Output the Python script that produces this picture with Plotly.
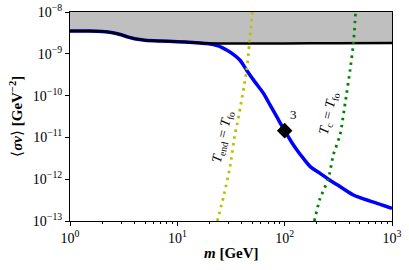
import plotly.graph_objects as go
import numpy as np

# ---- data ----
m_blue = [1.0, 1.5, 2.0, 2.5, 3.0, 3.5, 4.0, 5.0, 7.0, 10.0, 14.0, 18.8, 24.0, 28.8, 33.0, 38.4,
          44.4, 53.0, 63.4, 73.0, 84.3, 100.0, 115.0, 130.0, 150.0, 173.0, 214.0, 255.0, 330.0,
          437.0, 650.0, 1000.0]
sv_blue = [3.51e-9, 3.5e-9, 3.42e-9, 3.2e-9, 2.85e-9, 2.5e-9, 2.3e-9, 2.12e-9, 2.02e-9, 1.95e-9,
           1.86e-9, 1.76e-9, 1.55e-9, 1.23e-9, 9.8e-10, 7.0e-10,
           4.0e-10, 2.1e-10, 1.14e-10, 6.0e-11, 3.13e-11, 1.45e-11, 8.0e-12, 5.0e-12, 3.1e-12,
           2.0e-12, 1.38e-12, 1.0e-12, 6.6e-13,
           4.2e-13, 2.9e-13, 2.0e-13]

m_black = [1.0, 1.5, 2.0, 2.5, 3.0, 3.5, 4.0, 5.0, 7.0, 10.0, 14.0, 18.8, 30.0, 100.0, 300.0, 1000.0]
sv_black = [3.51e-9, 3.5e-9, 3.42e-9, 3.2e-9, 2.85e-9, 2.5e-9, 2.3e-9, 2.12e-9, 2.02e-9, 1.95e-9,
            1.86e-9, 1.78e-9, 1.76e-9, 1.77e-9, 1.79e-9, 1.81e-9]
band_top = 1e-8

m_yellow = [23.6, 26.9, 31.0, 34.5, 35.7, 44.3, 46.9, 50.0]
sv_yellow = [1.0e-13, 3.8e-13, 2.0e-12, 1.26e-11, 1.8e-11, 4.1e-10, 1.8e-9, 1e-8]

m_green = [189.0, 214.0, 255.0, 284.0, 328.0, 366.0, 407.0, 437.0, 458.0]
sv_green = [1.0e-13, 3.5e-13, 1.0e-12, 3.8e-12, 1.15e-11, 6.6e-11, 4.1e-10, 1.78e-9, 1e-8]

bp_m = [100.0]
bp_sv = [1.45e-11]
bp_label = ["3"]

x_tickvals = [1, 10, 100, 1000]
x_ticktext = ["10<sup>0</sup>", "10<sup>1</sup>", "10<sup>2</sup>", "10<sup>3</sup>"]
y_tickvals = [1e-13, 1e-12, 1e-11, 1e-10, 1e-9, 1e-8]
y_ticktext = ["10<sup>−13</sup>", "10<sup>−12</sup>", "10<sup>−11</sup>",
              "10<sup>−10</sup>", "10<sup>−9</sup>", "10<sup>−8</sup>"]

FONT = "Liberation Serif"

fig = go.Figure()
# grey excluded band
fig.add_trace(go.Scatter(x=m_black, y=[band_top] * len(m_black), mode="lines",
                         line=dict(width=0, color="rgba(0,0,0,0)"), showlegend=False,
                         hoverinfo="skip"))
fig.add_trace(go.Scatter(x=m_black, y=sv_black, mode="lines", fill="tonexty",
                         fillcolor="#bfbfbf", line=dict(width=0, color="rgba(0,0,0,0)"),
                         showlegend=False, hoverinfo="skip"))
# blue
fig.add_trace(go.Scatter(x=m_blue, y=sv_blue, mode="lines",
                         line=dict(color="#0000ff", width=3.5, shape="spline", smoothing=0.8),
                         showlegend=False))
# black
fig.add_trace(go.Scatter(x=m_black, y=sv_black, mode="lines",
                         line=dict(color="black", width=2.5, shape="spline", smoothing=0.8),
                         showlegend=False))
# dotted lines
fig.add_trace(go.Scatter(x=m_yellow, y=sv_yellow, mode="lines",
                         line=dict(color="#bfbf00", width=2.8, dash="2.5px,4.5px",
                                   shape="spline", smoothing=0.6),
                         showlegend=False))
fig.add_trace(go.Scatter(x=m_green, y=sv_green, mode="lines",
                         line=dict(color="#008000", width=2.8, dash="2.5px,4.5px",
                                   shape="spline", smoothing=0.6),
                         showlegend=False))
# benchmark
fig.add_trace(go.Scatter(x=bp_m, y=bp_sv, mode="markers",
                         marker=dict(symbol="diamond", size=12, color="black"),
                         showlegend=False))

fig.add_annotation(x=np.log10(bp_m[0]) + 0.078, y=np.log10(bp_sv[0]) + 0.38, text=bp_label[0],
                   showarrow=False, font=dict(family=FONT, size=13, color="black"))
fig.add_annotation(x=1.43, y=-10.99, text="<i>T</i><sub>end</sub> = <i>T</i><sub>fo</sub>",
                   showarrow=False, textangle=-77,
                   font=dict(family=FONT, size=14, color="black"))
fig.add_annotation(x=2.41, y=-10.42, text="<i>T</i><sub>c</sub> = <i>T</i><sub>fo</sub>",
                   showarrow=False, textangle=-77,
                   font=dict(family=FONT, size=14, color="black"))

# axis titles
fig.add_annotation(xref="paper", yref="paper", x=0.5, y=-0.153,
                   text="<b><i>m</i></b> <b>[GeV]</b>", showarrow=False,
                   xanchor="center", yanchor="middle",
                   font=dict(family=FONT, size=15, color="black"))
fig.add_annotation(xref="paper", yref="paper", x=-0.17, y=0.5,
                   text="⟨<b><i>σv</i></b>⟩ <b>[GeV<sup>−2</sup>]</b>", showarrow=False,
                   textangle=-90, xanchor="center", yanchor="middle",
                   font=dict(family=FONT, size=15, color="black"))

fig.update_xaxes(type="log", range=[0, 3], tickvals=x_tickvals, ticktext=x_ticktext,
                 ticks="outside", ticklen=4, tickcolor="black", showline=True,
                 linecolor="black", linewidth=1, mirror=True, showgrid=False, zeroline=False,
                 automargin=False,
                 tickfont=dict(family=FONT, size=14, color="black"),
                 minor=dict(tickmode="linear", dtick="D1", ticks="outside", ticklen=2,
                            tickcolor="black", showgrid=False))
fig.update_yaxes(type="log", range=[-13, -8], tickvals=y_tickvals, ticktext=y_ticktext,
                 ticks="outside", ticklen=4, tickcolor="black", showline=True,
                 linecolor="black", linewidth=1, mirror=True, showgrid=False, zeroline=False,
                 automargin=False,
                 tickfont=dict(family=FONT, size=14, color="black"))

fig.update_layout(width=409, height=270, margin=dict(l=70, r=17, t=12, b=49),
                  plot_bgcolor="white", paper_bgcolor="white", showlegend=False)

# remove the browser's default 8px body margin so the figure sits at the page corner
fig.write_html("out.html", config={"displayModeBar": False},
               post_script="document.body.style.margin='0px';")
